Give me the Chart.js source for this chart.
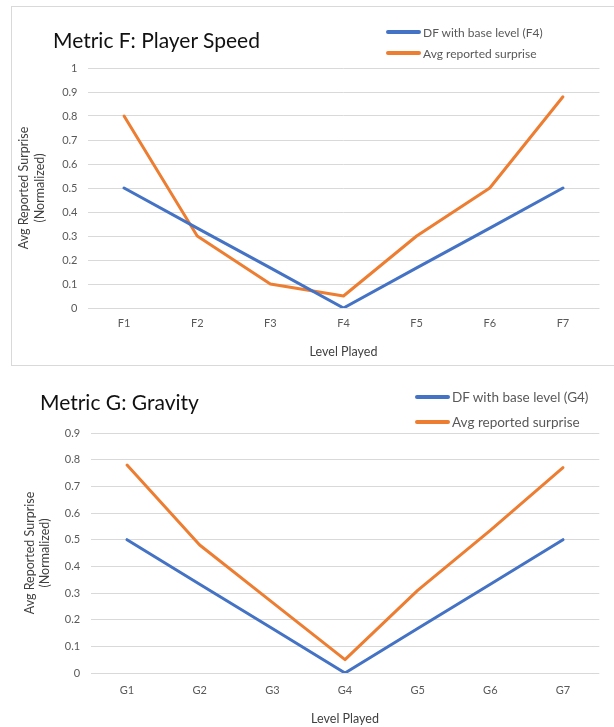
<!DOCTYPE html>
<html>
<head>
<meta charset="utf-8">
<script src="https://cdn.jsdelivr.net/npm/chart.js@4.4.0/dist/chart.umd.min.js"></script>
<style>
  html, body { margin: 0; padding: 0; background: #fff; width: 614px; height: 727px; overflow: hidden; font-family: Lato, "Open Sans", sans-serif; }
  .box { position: absolute; }
  #boxF { left: 11px; top: 6px; width: 603px; height: 360px; border: 1px solid #d9d9d9; border-right: none; box-sizing: border-box; }
  #boxG { left: 11px; top: 372px; width: 603px; height: 360px; }
  canvas { position: absolute; left: 0; top: 0; }
  .title { position: absolute; color: #111; white-space: nowrap; }
  .leg { position: absolute; color: #595959; white-space: nowrap; display: flex; align-items: center; }
  .leg span.ln { display: inline-block; height: 4px; border-radius: 2px; margin-right: 2px; }
</style>
</head>
<body>
<script>
// ---- data ----
const categoriesF = ['F1', 'F2', 'F3', 'F4', 'F5', 'F6', 'F7'];
const categoriesG = ['G1', 'G2', 'G3', 'G4', 'G5', 'G6', 'G7'];
const dfF = [0.5, 0.333, 0.167, 0, 0.167, 0.333, 0.5];
const surpriseF = [0.8, 0.3, 0.1, 0.05, 0.3, 0.5, 0.88];
const dfG = [0.5, 0.333, 0.167, 0, 0.167, 0.333, 0.5];
const surpriseG = [0.78, 0.48, 0.265, 0.05, 0.31, 0.535, 0.77];
const yTickValuesF = [0, 0.1, 0.2, 0.3, 0.4, 0.5, 0.6, 0.7, 0.8, 0.9, 1];
const yTickLabelsF = ['0', '0.1', '0.2', '0.3', '0.4', '0.5', '0.6', '0.7', '0.8', '0.9', '1'];
const yTickValuesG = [0, 0.1, 0.2, 0.3, 0.4, 0.5, 0.6, 0.7, 0.8, 0.9];
const yTickLabelsG = ['0', '0.1', '0.2', '0.3', '0.4', '0.5', '0.6', '0.7', '0.8', '0.9'];
const titleF = 'Metric F: Player Speed';
const titleG = 'Metric G: Gravity';
const seriesNamesF = ['DF with base level (F4)', 'Avg reported surprise'];
const seriesNamesG = ['DF with base level (G4)', 'Avg reported surprise'];
const yAxisTitle = ['Avg Reported Surprise', '(Normalized)'];
const xAxisTitle = 'Level Played';
const colors = ['#4472C4', '#ED7D31'];

function makeChart(cfg) {
  const box = document.createElement('div');
  box.className = 'box';
  box.id = cfg.id;
  document.body.appendChild(box);
  const canvas = document.createElement('canvas');
  canvas.width = 603; canvas.height = 360;
  canvas.style.left = cfg.canvasOffset + 'px';
  canvas.style.top = cfg.canvasOffset + 'px';
  box.appendChild(canvas);

  const t = document.createElement('div');
  t.className = 'title';
  t.textContent = cfg.title;
  t.style.left = cfg.titleX + 'px'; t.style.top = cfg.titleY + 'px';
  t.style.fontSize = cfg.titleSize + 'px';
  box.appendChild(t);

  cfg.names.forEach((n, i) => {
    const l = document.createElement('div');
    l.className = 'leg';
    l.style.left = cfg.legX + 'px';
    l.style.top = (cfg.legY + i * cfg.legGap) + 'px';
    l.style.fontSize = cfg.legSize + 'px';
    l.style.height = '16px';
    const s = document.createElement('span');
    s.className = 'ln';
    s.style.width = cfg.legLine + 'px';
    s.style.background = colors[i];
    l.appendChild(s);
    const tx = document.createElement('span');
    tx.textContent = n;
    l.appendChild(tx);
    box.appendChild(l);
  });

  new Chart(canvas, {
    type: 'line',
    data: {
      labels: cfg.labels,
      datasets: cfg.series.map((d, i) => ({
        label: cfg.names[i],
        data: d,
        borderColor: colors[i],
        backgroundColor: colors[i],
        borderWidth: 3,
        pointRadius: 0,
        tension: 0,
        borderCapStyle: 'round',
        borderJoinStyle: 'round'
      }))
    },
    options: {
      responsive: false,
      devicePixelRatio: 1,
      animation: false,
      layout: { padding: { left: 0, right: cfg.padRight, top: cfg.padTop, bottom: cfg.padBottom } },
      plugins: { legend: { display: false }, title: { display: false }, tooltip: { enabled: false } },
      scales: {
        x: {
          offset: true,
          grid: { display: false, drawTicks: false, offset: true },
          border: { display: false },
          ticks: { color: '#595959', font: { family: 'Lato', size: 11 }, padding: cfg.xTickPad, maxRotation: 0 },
          title: { display: true, text: xAxisTitle, color: '#404040', font: { family: 'Lato', size: 12.5 }, padding: { top: 4, bottom: 2 } },
          afterFit: s => { s.height = cfg.xHeight; }
        },
        y: {
          min: 0, max: cfg.yMax,
          afterBuildTicks: s => { s.ticks = cfg.yTicks.map(v => ({ value: v })); },
          grid: { color: '#d9d9d9', lineWidth: 1, drawTicks: false },
          border: { display: false },
          ticks: {
            color: '#595959', font: { family: 'Lato', size: 11 }, padding: cfg.yTickPad,
            callback: (v, i) => cfg.yTickLabels[i]
          },
          title: { display: true, text: yAxisTitle, color: '#404040', font: { family: 'Lato', size: 12.5, lineHeight: cfg.yTitleLH }, padding: { top: cfg.yTitlePad, bottom: 0 } },
          afterFit: s => { s.width = cfg.yWidth; }
        }
      }
    }
  });
}

makeChart({
  id: 'boxF', canvasOffset: -1,
  title: titleF, titleX: 41, titleY: 20, titleSize: 21,
  names: seriesNamesF, legX: 374, legY: 17, legGap: 21, legSize: 12, legLine: 35,
  labels: categoriesF, series: [dfF, surpriseF],
  yMax: 1, yTicks: yTickValuesF, yTickLabels: yTickLabelsF,
  padTop: 62, padRight: 14.5, padBottom: 5,
  xTickPad: 9, xHeight: 53,
  yWidth: 76.5, yTickPad: 10, yTitleLH: 1.3, yTitlePad: 5
});

makeChart({
  id: 'boxG', canvasOffset: 0,
  title: titleG, titleX: 29, titleY: 17, titleSize: 21,
  names: seriesNamesG, legX: 404, legY: 17, legGap: 25, legSize: 13.5, legLine: 35,
  labels: categoriesG, series: [dfG, surpriseG],
  yMax: 0.9, yTicks: yTickValuesG, yTickLabels: yTickLabelsG,
  padTop: 61, padRight: 14.7, padBottom: 4,
  xTickPad: 11, xHeight: 55,
  yWidth: 79.7, yTickPad: 10.5, yTitleLH: 1.25, yTitlePad: 11
});
</script>
</body>
</html>
